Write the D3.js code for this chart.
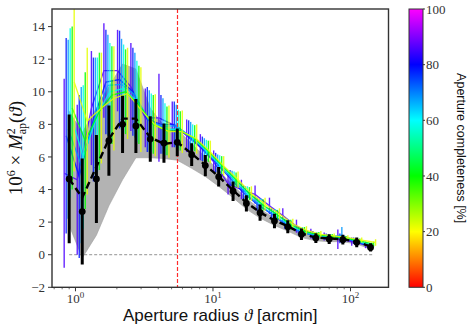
<!DOCTYPE html>
<html>
<head>
<meta charset="utf-8">
<script src="https://cdn.jsdelivr.net/npm/d3@7"></script>
<style>
  body { margin: 0; background: #fff; }
  svg { display: block; }
</style>
</head>
<body>
<div id="chart"></div>
<script>
// aperture radii [arcmin]
const theta = [0.9, 1.12, 1.42, 1.75, 2.2, 2.75, 3.5, 4.4, 5.5, 7.0, 8.8, 11, 14, 17.5, 22, 28, 35, 44, 56, 70, 88, 111, 140];

// black points + errors
const dataMap = [4.65, 2.65, 4.65, 7.0, 8.0, 7.9, 7.1, 6.85, 6.9, 6.14, 5.47, 4.78, 3.9, 3.15, 2.58, 2.07, 1.71, 1.26, 1.02, 0.96, 0.92, 0.76, 0.45];
const dataErr = [3.95, 3.25, 2.7, 2.15, 1.75, 1.65, 1.4, 1.2, 0.85, 0.7, 0.65, 0.6, 0.6, 0.5, 0.5, 0.45, 0.4, 0.35, 0.3, 0.3, 0.3, 0.3, 0.25];

// dashed mean curve and grey band
const meanLine = [4.65, 3.5, 5.4, 7.1, 8.35, 8.35, 7.2, 6.8, 6.9, 6.2, 5.5, 4.8, 3.95, 3.2, 2.6, 2.1, 1.75, 1.3, 1.05, 1.0, 0.95, 0.8, 0.5];
const bandLow = [1.8, -0.2, 1.2, 3.0, 4.6, 5.95, 5.95, 5.9, 5.8, 5.3, 4.8, 4.2, 3.5, 2.8, 2.25, 1.8, 1.45, 1.05, 0.85, 0.8, 0.8, 0.65, 0.35];
const bandHigh = [8.8, 7.5, 9.0, 10.3, 11.7, 11.4, 9.0, 7.9, 7.7, 6.8, 6.0, 5.15, 4.25, 3.45, 2.8, 2.25, 1.85, 1.4, 1.15, 1.05, 1.0, 0.85, 0.55];

// coloured curves: completeness [%]
const completeness = [86, 78, 68, 58, 40, 22];
const seriesVals = [
  [5.0, 4.6, 9.0, 11.3, 11.3, 10.3, 8.4, 8.4, 8.0, 7.3, 6.6, 5.7, 4.35, 4.0, 3.7, 3.0, 2.4, 1.75, 1.3, 1.12, 0.95, 0.8, 0.6],
  [7.3, 4.8, 8.3, 10.6, 10.75, 10.0, 8.3, 8.0, 8.0, 7.3, 6.5, 5.65, 4.7, 3.8, 3.1, 2.5, 1.9, 1.45, 1.2, 1.1, 1.0, 0.85, 0.55],
  [7.7, 5.5, 8.5, 10.4, 10.45, 9.8, 8.2, 7.9, 7.9, 7.25, 6.45, 5.6, 4.7, 3.8, 3.05, 2.45, 1.85, 1.4, 1.15, 1.1, 1.2, 0.85, 0.55],
  [8.7, 6.0, 8.6, 10.0, 10.2, 9.4, 8.1, 7.7, 7.7, 7.2, 6.4, 5.55, 4.65, 3.8, 3.1, 2.5, 1.85, 1.45, 1.2, 1.1, 1.0, 0.85, 0.6],
  [9.0, 7.0, 8.8, 9.8, 10.0, 9.2, 8.0, 7.6, 7.6, 7.15, 6.35, 5.5, 4.6, 3.75, 3.05, 2.45, 1.85, 1.45, 1.2, 1.12, 1.0, 0.85, 0.65],
  [10.6, 8.2, 9.0, 9.6, 9.9, 8.9, 7.95, 7.55, 7.55, 7.1, 6.3, 5.45, 4.6, 3.75, 3.1, 2.5, 1.9, 1.5, 1.25, 1.15, 1.05, 0.9, 0.75]
];
const seriesErrs = [
  [5.8, 4.6, 3.5, 2.9, 2.5, 2.7, 1.8, 2.7, 1.4, 1.0, 0.8, 0.7, 0.65, 0.6, 0.55, 0.5, 0.45, 0.4, 0.3, 0.25, 0.6, 0.25, 0.2],
  [6.0, 5.0, 3.8, 3.2, 3.0, 2.7, 2.0, 1.8, 1.4, 0.95, 0.75, 0.6, 0.5, 0.45, 0.4, 0.35, 0.3, 0.25, 0.25, 0.2, 0.3, 0.2, 0.15],
  [5.5, 4.8, 3.6, 3.1, 2.8, 2.6, 1.9, 1.7, 1.3, 0.9, 0.7, 0.55, 0.45, 0.4, 0.35, 0.3, 0.3, 0.25, 0.2, 0.15, 0.5, 0.15, 0.15],
  [5.2, 4.4, 3.5, 3.0, 2.7, 2.5, 1.8, 1.6, 1.2, 0.8, 0.65, 0.55, 0.45, 0.4, 0.35, 0.3, 0.3, 0.25, 0.2, 0.15, 0.15, 0.15, 0.15],
  [5.0, 4.2, 3.6, 3.0, 2.6, 2.4, 1.8, 1.5, 1.2, 0.8, 0.65, 0.55, 0.45, 0.4, 0.35, 0.3, 0.3, 0.25, 0.2, 0.15, 0.15, 0.15, 0.15],
  [5.5, 4.5, 3.4, 3.2, 2.8, 2.6, 1.9, 1.6, 1.3, 0.9, 0.7, 0.6, 0.5, 0.45, 0.4, 0.35, 0.3, 0.25, 0.2, 0.15, 0.15, 0.15, 0.2]
];
const seriesShift = [-5, -3, -1, 1, 3, 5]; // px, so the bars fan out

const xTicks = [1, 10, 100];
const yTicks = [-2, 0, 2, 4, 6, 8, 10, 12, 14];
const cbarTicks = [0, 20, 40, 60, 80, 100];
const thetaCut = 5.5;

const W = 474, H = 331;
const plot = { left: 52, right: 388.5, top: 9, bottom: 287.3 };
const cbar = { left: 409, right: 423 };

const svg = d3.select("#chart")
  .append("svg")
  .attr("width", W)
  .attr("height", H)
  .attr("viewBox", [0, 0, W, H]);

const x = d3.scaleLog()
  .domain([0.675, 189])
  .range([plot.left, plot.right]);
const y = d3.scaleLinear()
  .domain([-2, 15.08])
  .range([plot.bottom, plot.top]);
const cScale = d3.scaleLinear()
  .domain([0, 100])
  .range([plot.bottom, plot.top]);
const colorOf = c => d3.hsl(c * 3, 1, 0.5).formatHex();

svg.append("clipPath")
    .attr("id", "clip")
  .append("rect")
    .attr("x", plot.left)
    .attr("y", plot.top)
    .attr("width", plot.right - plot.left)
    .attr("height", plot.bottom - plot.top);

const g = svg.append("g").attr("clip-path", "url(#clip)");

// grey band
const band = d3.area()
  .x((d, i) => x(theta[i]))
  .y0((d, i) => y(bandLow[i]))
  .y1((d, i) => y(bandHigh[i]));
g.append("path")
  .datum(theta)
  .attr("d", band)
  .attr("fill", "#b3b3b3")
  .attr("stroke", "#a0a0a0")
  .attr("stroke-width", 0.6);

// zero line
g.append("line")
  .attr("x1", x(0.9)).attr("x2", x(144))
  .attr("y1", y(0)).attr("y2", y(0))
  .attr("stroke", "#777")
  .attr("stroke-width", 0.8)
  .attr("stroke-dasharray", "3,2");

// coloured curves
seriesVals.forEach((vals, s) => {
  const col = colorOf(completeness[s]);
  const dx = seriesShift[s];
  const gs = g.append("g").attr("opacity", 0.85);
  gs.selectAll("line")
    .data(vals)
    .join("line")
      .attr("x1", (d, i) => x(theta[i]) + dx)
      .attr("x2", (d, i) => x(theta[i]) + dx)
      .attr("y1", (d, i) => y(d - seriesErrs[s][i]))
      .attr("y2", (d, i) => y(d + seriesErrs[s][i]))
      .attr("stroke", col)
      .attr("stroke-width", 1.4);
  gs.append("path")
    .datum(vals)
    .attr("d", d3.line().x((d, i) => x(theta[i]) + dx).y(d => y(d)))
    .attr("fill", "none")
    .attr("stroke", col)
    .attr("stroke-width", 1.3);
});

// red cut line (snapped to the pixel grid so it stays crisp)
const xCut = Math.round(x(thetaCut)) + 0.5;
g.append("line")
  .attr("x1", xCut).attr("x2", xCut)
  .attr("y1", plot.top).attr("y2", plot.bottom)
  .attr("stroke", "#ff2a2a")
  .attr("stroke-width", 1.2)
  .attr("stroke-dasharray", "4,2");

// black data
g.append("path")
  .datum(meanLine)
  .attr("d", d3.line().x((d, i) => x(theta[i])).y(d => y(d)))
  .attr("fill", "none")
  .attr("stroke", "#000")
  .attr("stroke-width", 2.4)
  .attr("stroke-dasharray", "7,4");

g.append("g")
  .selectAll("line")
  .data(dataMap)
  .join("line")
    .attr("x1", (d, i) => x(theta[i]))
    .attr("x2", (d, i) => x(theta[i]))
    .attr("y1", (d, i) => y(d - dataErr[i]))
    .attr("y2", (d, i) => y(d + dataErr[i]))
    .attr("stroke", "#000")
    .attr("stroke-width", 3);

g.append("g")
  .selectAll("circle")
  .data(dataMap)
  .join("circle")
    .attr("cx", (d, i) => x(theta[i]))
    .attr("cy", d => y(d))
    .attr("r", 3.4)
    .attr("fill", "#000");

// frame
svg.append("rect")
  .attr("x", plot.left)
  .attr("y", plot.top)
  .attr("width", plot.right - plot.left)
  .attr("height", plot.bottom - plot.top)
  .attr("fill", "none")
  .attr("stroke", "#333")
  .attr("stroke-width", 1.4);

// x axis
const minor = [];
for (let e = -1; e <= 2; e++) {
  for (let k = 2; k <= 9; k++) {
    const v = k * Math.pow(10, e);
    if (v > 0.675 && v < 189) minor.push(v);
  }
}
svg.append("g")
  .selectAll("line")
  .data(minor)
  .join("line")
    .attr("x1", d => x(d)).attr("x2", d => x(d))
    .attr("y1", plot.bottom).attr("y2", plot.bottom + 2)
    .attr("stroke", "#333")
    .attr("stroke-width", 0.7);

const xt = svg.append("g")
  .selectAll("g")
  .data(xTicks)
  .join("g")
    .attr("transform", d => `translate(${x(d)},${plot.bottom})`);
xt.append("line")
  .attr("y2", 4)
  .attr("stroke", "#333")
  .attr("stroke-width", 1);
const xl = xt.append("text")
  .attr("y", 16)
  .attr("text-anchor", "middle")
  .attr("font-family", "Liberation Serif, serif")
  .attr("font-size", 13)
  .attr("fill", "#333");
xl.append("tspan").text("10");
xl.append("tspan")
  .attr("dy", -5)
  .attr("font-size", 9)
  .text(d => Math.round(Math.log10(d)));

// y axis
const yt = svg.append("g")
  .selectAll("g")
  .data(yTicks)
  .join("g")
    .attr("transform", d => `translate(${plot.left},${y(d)})`);
yt.append("line")
  .attr("x2", -4)
  .attr("stroke", "#333")
  .attr("stroke-width", 1);
yt.append("text")
  .attr("x", -7)
  .attr("dy", "0.35em")
  .attr("text-anchor", "end")
  .attr("font-family", "Liberation Serif, serif")
  .attr("font-size", 13)
  .attr("fill", "#333")
  .text(d => d < 0 ? "\u2212" + Math.abs(d) : d);

// axis labels
svg.append("text")
  .attr("x", (plot.left + plot.right) / 2)
  .attr("y", 321)
  .attr("text-anchor", "middle")
  .attr("font-family", "Liberation Sans, sans-serif")
  .attr("font-size", 17)
  .attr("fill", "#111")
  .call(t => {
    t.append("tspan").text("Aperture radius ");
    t.append("tspan").attr("font-family", "Liberation Serif, serif").attr("font-style", "italic").text("\u03d1");
    t.append("tspan").text(" [arcmin]");
  });

const yl = svg.append("text")
  .attr("transform", `translate(22,${(plot.top + plot.bottom) / 2}) rotate(-90)`)
  .attr("text-anchor", "middle")
  .attr("font-family", "Liberation Serif, serif")
  .attr("font-size", 19)
  .attr("fill", "#111");
yl.append("tspan").text("10");
yl.append("tspan").attr("dy", -7).attr("font-size", 12).text("6");
yl.append("tspan").attr("dy", 7).text(" \u00d7 ");
yl.append("tspan").attr("font-style", "italic").text("M");
yl.append("tspan").attr("dy", -7).attr("font-size", 12).text("2");
yl.append("tspan").attr("dx", -6).attr("dy", 11).attr("font-size", 12).text("ap");
yl.append("tspan").attr("dy", -4).text("(");
yl.append("tspan").attr("font-style", "italic").text("\u03d1");
yl.append("tspan").text(")");

// colorbar
const grad = svg.append("defs")
  .append("linearGradient")
    .attr("id", "cgrad")
    .attr("x1", 0).attr("y1", 1)
    .attr("x2", 0).attr("y2", 0);
grad.selectAll("stop")
  .data(d3.range(0, 101, 5))
  .join("stop")
    .attr("offset", d => d / 100)
    .attr("stop-color", d => colorOf(d));

svg.append("rect")
  .attr("x", cbar.left)
  .attr("y", plot.top)
  .attr("width", cbar.right - cbar.left)
  .attr("height", plot.bottom - plot.top)
  .attr("fill", "url(#cgrad)")
  .attr("stroke", "#333")
  .attr("stroke-width", 1);

const ct = svg.append("g")
  .selectAll("g")
  .data(cbarTicks)
  .join("g")
    .attr("transform", d => `translate(${cbar.right},${cScale(d)})`);
ct.append("line")
  .attr("x2", 2)
  .attr("stroke", "#333");
ct.append("text")
  .attr("x", 3)
  .attr("dy", "0.35em")
  .attr("font-family", "Liberation Serif, serif")
  .attr("font-size", 13)
  .attr("fill", "#333")
  .text(d => d);

svg.append("text")
  .attr("transform", `translate(457,${(plot.top + plot.bottom) / 2}) rotate(90)`)
  .attr("text-anchor", "middle")
  .attr("font-family", "Liberation Sans, sans-serif")
  .attr("font-size", 12.5)
  .attr("fill", "#111")
  .text("Aperture completeness [%]");
</script>
</body>
</html>
